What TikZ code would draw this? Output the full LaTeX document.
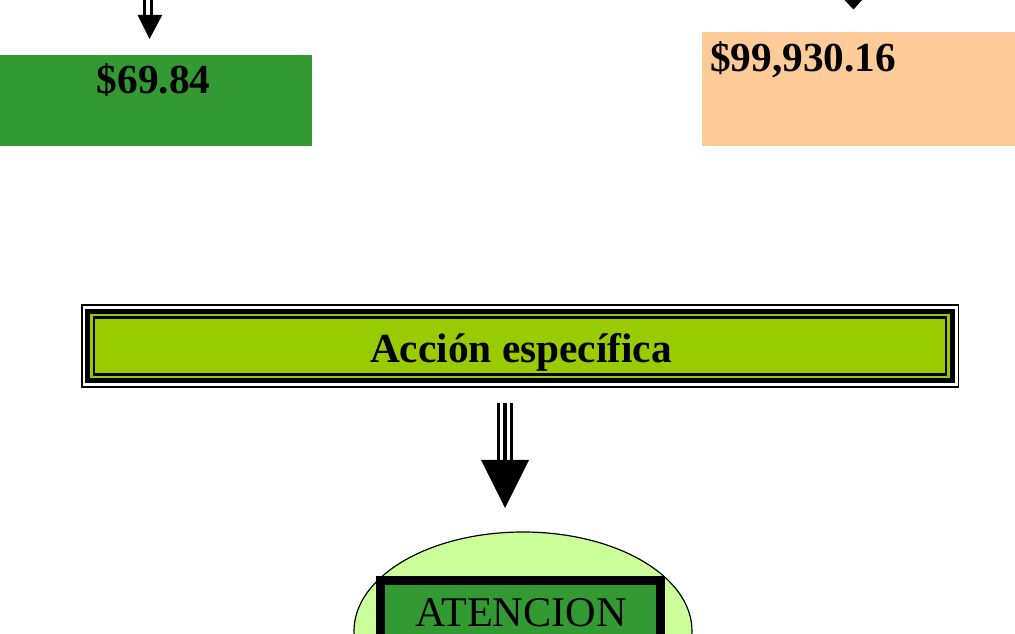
\documentclass[tikz,border=0pt]{standalone}
\usepackage{fontspec}
\setmainfont{Liberation Serif}
\usetikzlibrary{shapes.geometric}
\definecolor{dgreen}{HTML}{339933}
\definecolor{peach}{HTML}{FFCC99}
\definecolor{lime}{HTML}{99CC00}
\definecolor{pale}{HTML}{CCFF99}
\tikzset{
  big/.style={font=\fontsize{31}{36}\selectfont\bfseries, inner sep=0pt, text=black},
  bigreg/.style={font=\fontsize{31.7}{36}\selectfont, inner sep=0pt, text=black},
  head/.style={fill=black, draw=none},
}
\begin{document}
\begin{tikzpicture}[x=0.75pt, y=-0.75pt]
\useasboundingbox (0,0) rectangle (1015,634);
% top-left arrow
\fill[black] (142.7,0) rectangle (145.5,16);
\fill[black] (150,0) rectangle (152.8,16);
\coordinate (tl1) at (137.5,15);
\coordinate (tl2) at (162.3,15);
\coordinate (tl3) at (149.5,39);
\fill[head] (tl1) -- (tl2) -- (tl3) -- cycle;
% green box
\node[fill=dgreen, minimum width=312*0.75pt, minimum height=91*0.75pt, inner sep=0pt, anchor=north west] (g) at (0,55) {};
\node[big, anchor=base] (gt) at (153.5,93.5) {\$69.84};
% top-right arrowhead
\coordinate (tr1) at (844.5,0);
\coordinate (tr2) at (862,0);
\coordinate (tr3) at (853.5,9.5);
\fill[head] (tr1) -- (tr2) -- (tr3) -- cycle;
% peach box
\node[fill=peach, minimum width=313*0.75pt, minimum height=114*0.75pt, inner sep=0pt, anchor=north west] (p) at (702,32) {};
\node[big, anchor=base west] (pt) at (710,71.7) {\$99,930.16};
% Accion especifica box
\draw[black, line width=1.2pt] (81.8,304.8) rectangle (958.3,386.8);
\fill[black] (85,309) rectangle (954.5,383.5);
\fill[lime] (90,314) rectangle (949.5,378.5);
\fill[black] (92.5,316.5) rectangle (947,376);
\fill[lime] (95,319) rectangle (944.5,373.5);
\node[big, anchor=base] (acc) at (521,362.3) {Acción específica};
% middle arrow
\fill[black] (496.7,403) rectangle (500,461);
\fill[black] (503.3,403) rectangle (506.7,461);
\fill[black] (510,403) rectangle (513.3,461);
\coordinate (m1) at (481,460);
\coordinate (m2) at (529,460);
\coordinate (m3) at (505,508);
\fill[head] (m1) -- (m2) -- (m3) -- cycle;
% ellipse
\node[ellipse, draw=black, line width=0.9pt, fill=pale, minimum width=338*0.75pt, minimum height=198*0.75pt, inner sep=0pt] (el) at (523,631) {};
% ATENCION box
\fill[black] (376,576) rectangle (665,640);
\fill[dgreen] (385,585) rectangle (656,640);
\node[bigreg, anchor=base] (at) at (521,627) {ATENCION};
\end{tikzpicture}
\end{document}
